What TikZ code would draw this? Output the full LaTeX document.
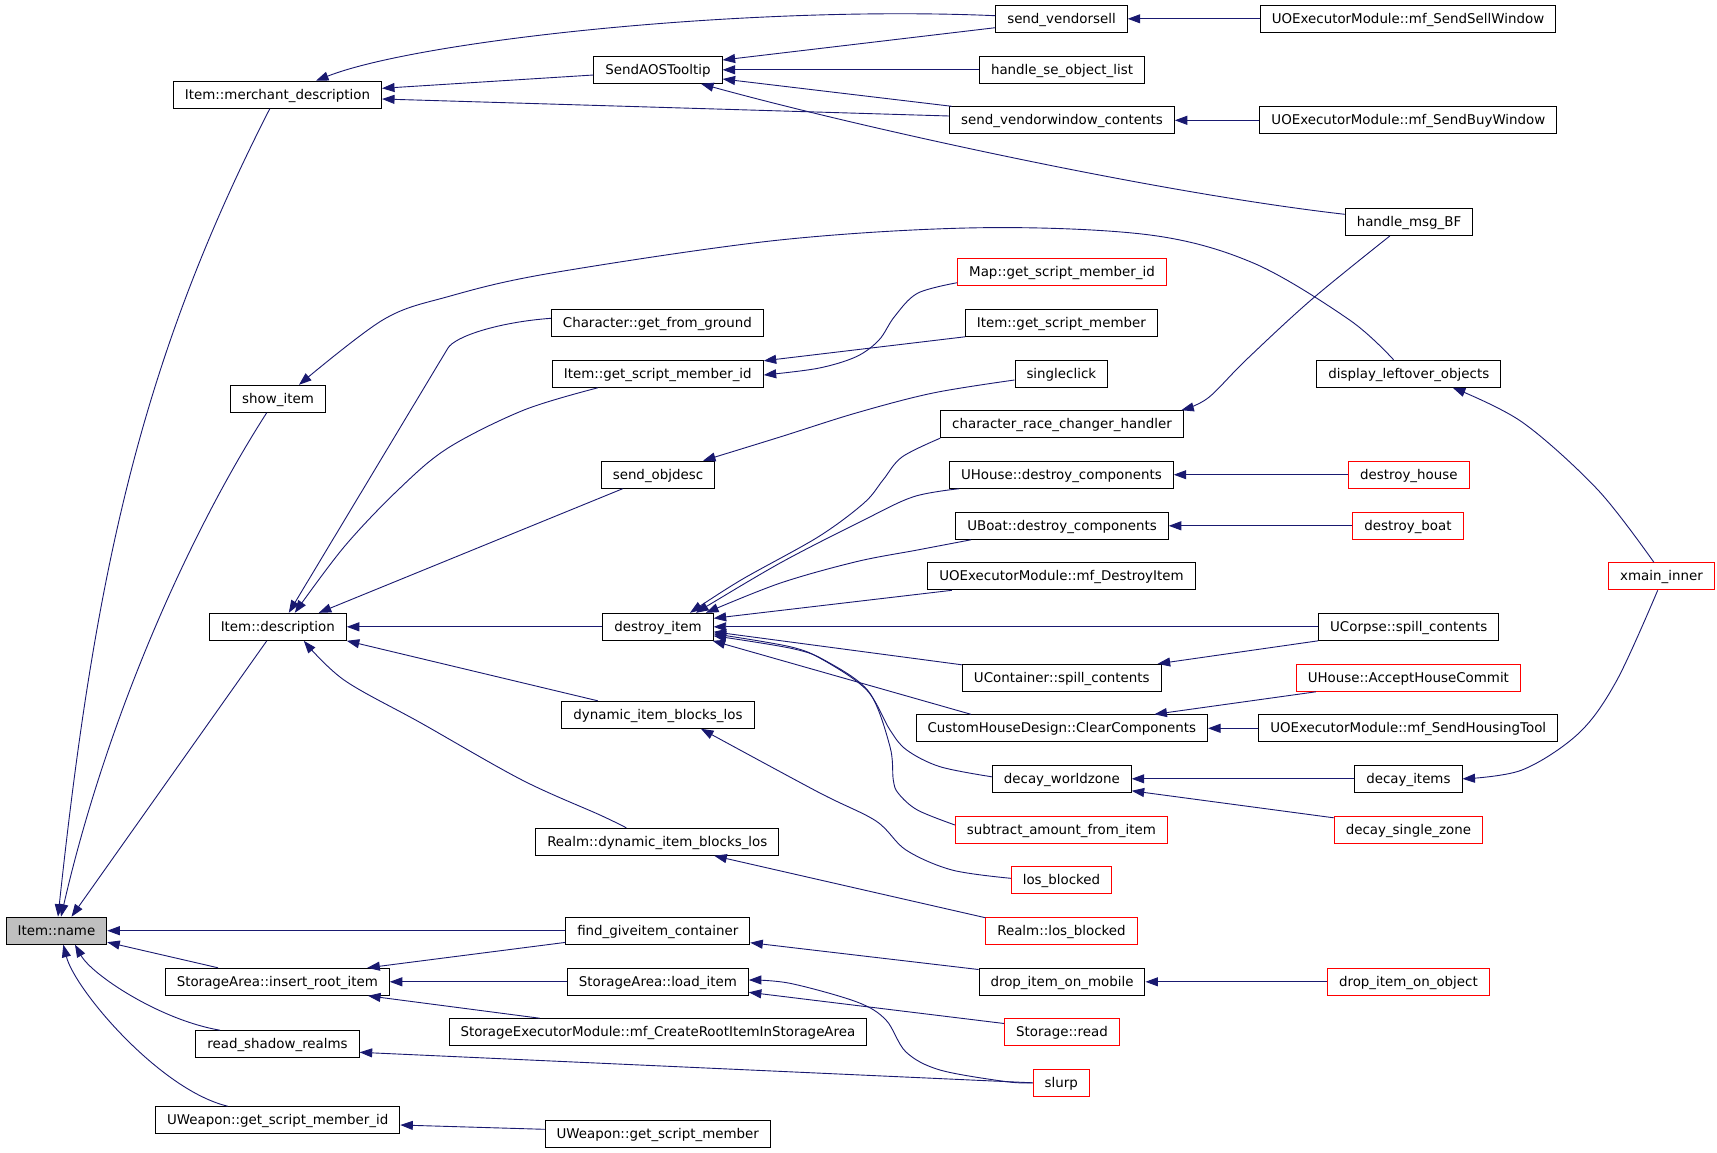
\documentclass[tikz,border=0pt]{standalone}
\usepackage{fontspec}
\setmainfont{DejaVu Sans}
\usetikzlibrary{arrows.meta}
\definecolor{edgeblue}{HTML}{191970}
\definecolor{namegray}{HTML}{BFBFBF}
\begin{document}
\begin{tikzpicture}[x=1pt,y=-1pt,
  nbox/.style={draw=black, line width=1pt, fill=white, minimum height=27pt, inner xsep=11.5pt, inner ysep=0pt, text height=11pt, text depth=2pt, font=\fontsize{13.4pt}{16pt}\selectfont},
  rbox/.style={nbox, draw=red},
  gbox/.style={nbox, fill=namegray},
  cedge/.style={draw=edgeblue, line width=0.9pt, -{Triangle[length=12.5pt,width=9pt]}}]
\useasboundingbox[fill=white] (0,0) rectangle (1717,1152);
% column 1
\node[gbox] (name) at (56.5,930.7) {Item::name};
% column 2
\node[nbox] (merch) at (277.5,94.7) {Item::merchant\_description};
\node[nbox] (show) at (278,398.8) {show\_item};
\node[nbox] (desc) at (277.8,626.8) {Item::description};
\node[nbox] (insert) at (277.3,981.8) {StorageArea::insert\_root\_item};
\node[nbox] (shadow) at (277.5,1044.2) {read\_shadow\_realms};
\node[nbox] (uwid) at (277.7,1120.2) {UWeapon::get\_script\_member\_id};
% column 3
\node[nbox] (aos) at (658,69.8) {SendAOSTooltip};
\node[nbox] (cgfg) at (657.4,322.8) {Character::get\_from\_ground};
\node[nbox] (igsmi) at (657.8,373.8) {Item::get\_script\_member\_id};
\node[nbox] (objdesc) at (658,474.7) {send\_objdesc};
\node[nbox] (destroy) at (658,626.8) {destroy\_item};
\node[nbox] (dibl) at (658,714.8) {dynamic\_item\_blocks\_los};
\node[nbox] (rdibl) at (657.3,841.8) {Realm::dynamic\_item\_blocks\_los};
\node[nbox] (fgc) at (657.8,930.7) {find\_giveitem\_container};
\node[nbox] (loaditem) at (657.9,981.8) {StorageArea::load\_item};
\node[nbox] (semod) at (657.9,1032.2) {StorageExecutorModule::mf\_CreateRootItemInStorageArea};
\node[nbox] (uwgsm) at (657.7,1133.8) {UWeapon::get\_script\_member};
% column 4
\node[nbox] (vendorsell) at (1061.5,18.8) {send\_vendorsell};
\node[nbox] (hsol) at (1062,69.8) {handle\_se\_object\_list};
\node[nbox] (vwc) at (1062,120.3) {send\_vendorwindow\_contents};
\node[rbox] (mapgsmi) at (1062,272.3) {Map::get\_script\_member\_id};
\node[nbox] (igsm) at (1061.4,322.8) {Item::get\_script\_member};
\node[nbox] (singleclick) at (1061.3,373.8) {singleclick};
\node[nbox] (crch) at (1062,424.2) {character\_race\_changer\_handler};
\node[nbox] (uhdc) at (1061.4,474.7) {UHouse::destroy\_components};
\node[nbox] (ubdc) at (1062,525.8) {UBoat::destroy\_components};
\node[nbox] (mfdi) at (1061.5,576.3) {UOExecutorModule::mf\_DestroyItem};
\node[nbox] (ucsc) at (1061.8,677.8) {UContainer::spill\_contents};
\node[nbox] (chdcc) at (1061.8,728.3) {CustomHouseDesign::ClearComponents};
\node[nbox] (dwz) at (1061.8,778.8) {decay\_worldzone};
\node[rbox] (safi) at (1061.4,829.8) {subtract\_amount\_from\_item};
\node[rbox] (losb) at (1061.5,880.3) {los\_blocked};
\node[rbox] (rlosb) at (1061.5,930.7) {Realm::los\_blocked};
\node[nbox] (dim) at (1062,981.8) {drop\_item\_on\_mobile};
\node[rbox] (sread) at (1062,1032.2) {Storage::read};
\node[rbox] (slurp) at (1061.3,1082.8) {slurp};
% column 5
\node[nbox] (sellwin) at (1408,18.8) {UOExecutorModule::mf\_SendSellWindow};
\node[nbox] (buywin) at (1408.4,120.3) {UOExecutorModule::mf\_SendBuyWindow};
\node[nbox] (hmbf) at (1409,222) {handle\_msg\_BF};
\node[nbox] (dlo) at (1408.8,373.8) {display\_leftover\_objects};
\node[rbox] (dhouse) at (1408.8,474.7) {destroy\_house};
\node[rbox] (dboat) at (1408,525.8) {destroy\_boat};
\node[nbox] (corpse) at (1408.8,626.8) {UCorpse::spill\_contents};
\node[rbox] (ahc) at (1408.4,677.8) {UHouse::AcceptHouseCommit};
\node[nbox] (housing) at (1408.2,728.3) {UOExecutorModule::mf\_SendHousingTool};
\node[nbox] (ditems) at (1408.4,778.8) {decay\_items};
\node[rbox] (dsz) at (1408.4,829.8) {decay\_single\_zone};
\node[rbox] (dio) at (1408.4,981.8) {drop\_item\_on\_object};
% column 6
\node[rbox] (xmain) at (1661.5,576.3) {xmain\_inner};

% edges into Item::name
\draw[cedge] ([xshift=-7.7pt]merch.south) .. controls (142.5,358) and (95.5,567) .. ([xshift=1.5pt]name.north);
\draw[cedge] ([xshift=-11.3pt]show.south) .. controls (190,532) and (107,717) .. ([xshift=4.5pt]name.north);
\draw[cedge] ([xshift=-11pt]desc.south) -- ([xshift=15pt]name.north);
\draw[cedge] (fgc.west) -- (name.east);
\draw[cedge] ([xshift=-59.2pt]insert.north) -- ([yshift=2.5pt]name.south east);
\draw[cedge] ([xshift=-57.5pt]shadow.north) .. controls (160,1020) and (92,975) .. ([xshift=18.5pt]name.south);
\draw[cedge] ([xshift=-50pt]uwid.north) .. controls (160,1090) and (75,990) .. ([xshift=6.8pt]name.south);
% merchant_description
\draw[cedge] ([yshift=-5.2pt]aos.west) -- ([yshift=6.4pt]merch.east);
\draw[cedge] ([yshift=3.1pt]vendorsell.west) .. controls (750,5) and (420,40) .. ([xshift=38.5pt]merch.north);
\draw[cedge] ([yshift=4.3pt]vwc.west) -- ([yshift=-4.3pt]merch.east);
% SendAOSTooltip
\draw[cedge] ([yshift=-8.9pt]vendorsell.west) -- ([yshift=9.8pt]aos.east);
\draw[cedge] (hsol.west) -- (aos.east);
\draw[cedge] ([xshift=2.6pt]vwc.north west) -- ([yshift=-9.2pt]aos.east);
\draw[cedge] ([yshift=7.7pt]hmbf.west) .. controls (1150,192) and (850,125) .. ([xshift=43pt]aos.south);
\draw[cedge] (sellwin.west) -- (vendorsell.east);
\draw[cedge] (buywin.west) -- (vwc.east);
% show_item, handle_msg_BF, xmain_inner
\draw[cedge] plot[smooth,tension=0.55] coordinates {([xshift=-15.2pt]dlo.north) (1349.6,320) (1254,263.3) (1150,235) (982.5,227.7) (779.6,240) (550,273.3) (447.8,296.7) (382.7,320) ([xshift=21pt]show.north)};
\draw[cedge] plot[smooth,tension=0.55] coordinates {([xshift=-19.2pt]hmbf.south) (1311,300) (1246,360) (1208,398) ([xshift=-2.5pt]crch.north east)};
\draw[cedge] plot[smooth,tension=0.55] coordinates {([xshift=-7.6pt]xmain.north) (1598,490) (1522,422) ([xshift=44pt]dlo.south)};
\draw[cedge] plot[smooth,tension=0.55] coordinates {([xshift=-3.8pt]xmain.south) (1617,680) (1579,733) (1522,770) (ditems.east)};
% Item::description
\draw[cedge] ([yshift=4.5pt]cgfg.west) .. controls (500,322) and (455,336) .. (447.8,348.3) -- ([xshift=11pt]desc.north);
\draw[cedge] plot[smooth,tension=0.55] coordinates {([xshift=-60pt]igsmi.south) (524,410) (448,448) (398,490) (344,547) ([xshift=17pt]desc.north)};
\draw[cedge] ([xshift=-35.3pt]objdesc.south) -- ([xshift=41pt]desc.north);
\draw[cedge] (destroy.west) -- (desc.east);
\draw[cedge] ([xshift=-60.2pt]dibl.north) -- (desc.south east);
\draw[cedge] plot[smooth,tension=0.55] coordinates {([xshift=-31pt]rdibl.north) (600,815) (522,780) (421,723) (344,680) ([xshift=26pt]desc.south)};
% Item::get_script_member_id, send_objdesc
\draw[cedge] plot[smooth,tension=0.55] coordinates {([yshift=-10.4pt]mapgsmi.west) (917.4,293.3) (894.4,316.7) (879,340) (856.2,356.7) (817.9,368.3) ([yshift=-1.2pt]igsmi.east)};
\draw[cedge] (igsm.south west) -- ([yshift=-1pt]igsmi.north east);
\draw[cedge] plot[smooth,tension=0.55] coordinates {([yshift=-6.2pt]singleclick.west) (933,393) (856,413) (780,437) ([xshift=45pt]objdesc.north)};
% destroy_item
\draw[cedge] plot[smooth,tension=0.55] coordinates {(crch.south west) (902,457) (883,480) (864,503) (818,537) (741,580) ([xshift=32pt]destroy.north)};
\draw[cedge] plot[smooth,tension=0.55] coordinates {([xshift=10.3pt]uhdc.south west) (913.6,496.7) (863.8,520) (779.6,563.3) ([xshift=38pt]destroy.north)};
\draw[cedge] plot[smooth,tension=0.55] coordinates {([xshift=15.7pt]ubdc.south west) (917.4,550) (856.2,561.7) (779.6,583.3) ([xshift=48pt]destroy.north)};
\draw[cedge] ([xshift=24.5pt]mfdi.south west) -- ([yshift=8.5pt]destroy.east);
\draw[cedge] (corpse.west) -- (destroy.east);
\draw[cedge] ([yshift=-1pt]ucsc.north west) -- ([yshift=-5pt]destroy.east);
\draw[cedge] ([xshift=-90.8pt]chdcc.north) -- ([xshift=-1pt]destroy.south east);
\draw[cedge] plot[smooth,tension=0.55] coordinates {([yshift=2pt]dwz.west) (940,766.7) (906.7,750) (890,730) (866.7,690) (823.3,660) (790,646.7) ([yshift=-7pt]destroy.east)};
\draw[cedge] plot[smooth,tension=0.55] coordinates {([yshift=4.8pt]safi.west) (917.4,810) (898.3,793.3) (893.3,780) (890,746.7) (869,692) (826,661) (792,648.5) ([yshift=-9pt]destroy.east)};
% column 4 -> 3
\draw[cedge] (dhouse.west) -- (uhdc.east);
\draw[cedge] (dboat.west) -- (ubdc.east);
\draw[cedge] (corpse.south west) -- ([xshift=-4pt]ucsc.north east);
\draw[cedge] ([xshift=20pt]ahc.south west) -- ([xshift=-53.6pt]chdcc.north east);
\draw[cedge] (housing.west) -- (chdcc.east);
\draw[cedge] (ditems.west) -- (dwz.east);
\draw[cedge] ([yshift=-2pt]dsz.north west) -- ([yshift=-12pt]dwz.east);
% los / storage
\draw[cedge] plot[smooth,tension=0.55] coordinates {([yshift=2pt]losb.west) (952,870) (906,850) (876,821) (818,792) ([xshift=43pt]dibl.south)};
\draw[cedge] ([yshift=-1pt]rlosb.north west) -- ([xshift=57pt]rdibl.south);
\draw[cedge] ([yshift=2.3pt]fgc.south west) -- ([xshift=90pt]insert.north);
\draw[cedge] (loaditem.west) -- (insert.east);
\draw[cedge] ([xshift=-118.3pt]semod.north) -- ([xshift=-21.8pt]insert.south east);
\draw[cedge] ([yshift=-1.7pt]dim.north west) -- ([yshift=2pt]fgc.south east);
\draw[cedge] ([yshift=-5.3pt]sread.north west) -- ([yshift=-10.5pt]loaditem.east);
\draw[cedge] plot[smooth,tension=0.55] coordinates {(slurp.west) (1006.7,1081.7) (940,1070) (906,1052) (886,1020) (857,1002) (790,983.3) ([yshift=1.8pt]loaditem.east)};
\draw[cedge] (slurp.west) -- ([yshift=-8.1pt]shadow.east);
\draw[cedge] (dio.west) -- (dim.east);
\draw[cedge] ([yshift=4.5pt]uwgsm.west) -- ([yshift=-4.8pt]uwid.east);
\end{tikzpicture}
\end{document}
